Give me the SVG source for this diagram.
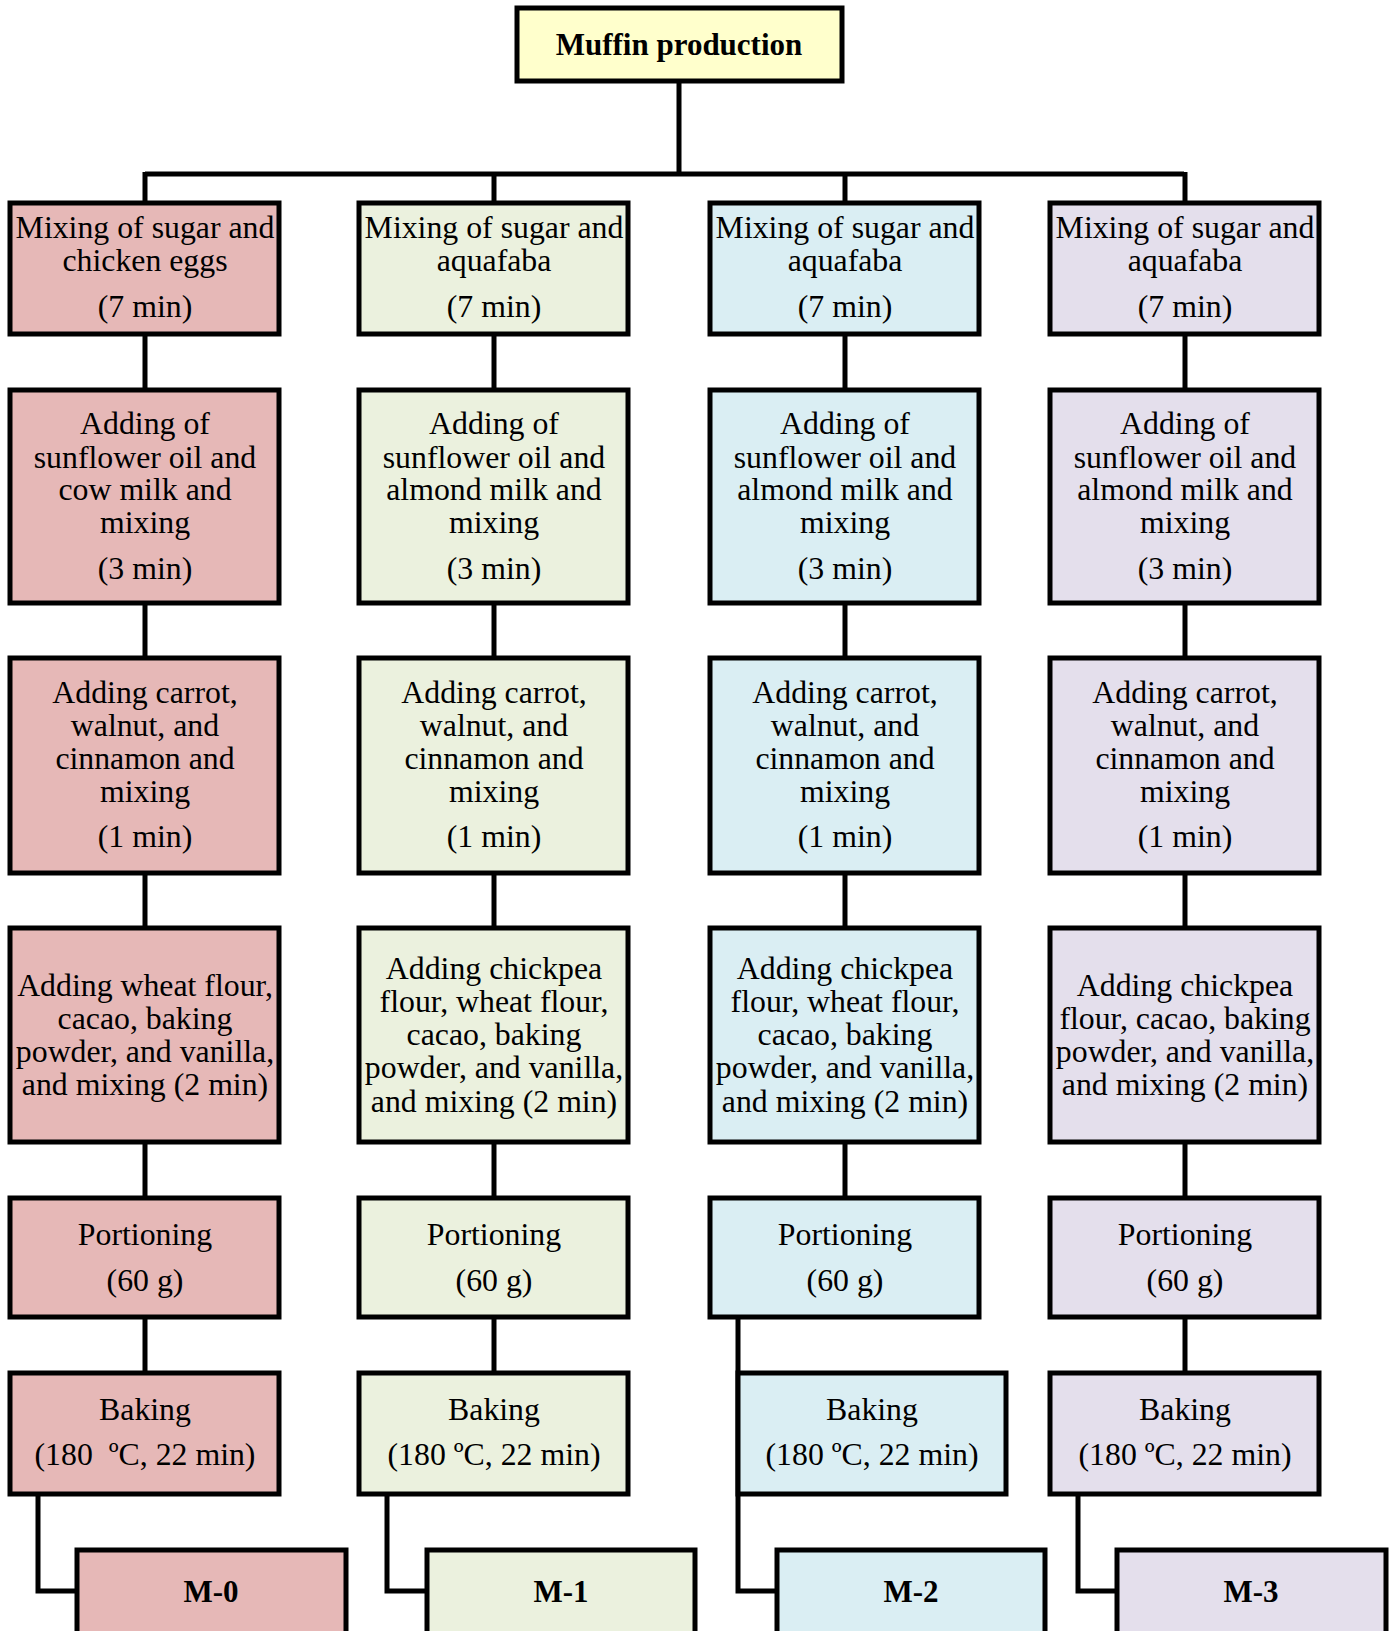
<svg xmlns="http://www.w3.org/2000/svg" width="1394" height="1631" viewBox="0 0 1394 1631">
<style>
.b{stroke:#000;stroke-width:5}
.c0{fill:#E6B8B7}.c1{fill:#EBF1DE}.c2{fill:#DAEEF3}.c3{fill:#E4DFEC}.ct{fill:#FFFFCC}
text{font-family:"Liberation Serif","Times New Roman",serif;font-size:31.8px;text-anchor:middle;fill:#000}
.bold{font-weight:bold;font-size:31px}
.ln{stroke:#000;stroke-width:5;fill:none}
</style>
<rect width="1394" height="1631" fill="#fff"/>
<g id="connectors">
<path class="ln" d="M679 81V174M145 174H1184M145 172V203M494 172V203M845 172V203M1185 172V203"/>
<path class="ln" d="M145 334V390M145 603V658M145 873V928M145 1142V1198M145 1317V1373M38 1494V1591H77"/>
<path class="ln" d="M494 334V390M494 603V658M494 873V928M494 1142V1198M494 1317V1373M387 1494V1591H427"/>
<path class="ln" d="M845 334V390M845 603V658M845 873V928M845 1142V1198M738 1317V1591H777"/>
<path class="ln" d="M1185 334V390M1185 603V658M1185 873V928M1185 1142V1198M1185 1317V1373M1078 1494V1591H1117"/>
</g>
<g id="top"><rect class="b ct" x="517" y="8" width="325" height="73"/><text class="bold" x="679" y="55">Muffin production</text></g>

<g id="m0-1"><rect class="b c0" x="10" y="203" width="269" height="131"/><text x="145" y="238">Mixing of sugar and</text><text x="145" y="271">chicken eggs</text><text x="145" y="317">(7 min)</text></g>
<g id="m0-2"><rect class="b c0" x="10" y="390" width="269" height="213"/><text x="145" y="434">Adding of</text><text x="145" y="468">sunflower oil and</text><text x="145" y="500">cow milk and</text><text x="145" y="533">mixing</text><text x="145" y="579">(3 min)</text></g>
<g id="m0-3"><rect class="b c0" x="10" y="658" width="269" height="215"/><text x="145" y="703">Adding carrot,</text><text x="145" y="736">walnut, and</text><text x="145" y="769">cinnamon and</text><text x="145" y="802">mixing</text><text x="145" y="847">(1 min)</text></g>
<g id="m0-4"><rect class="b c0" x="10" y="928" width="269" height="214"/><text x="145" y="996">Adding wheat flour,</text><text x="145" y="1029">cacao, baking</text><text x="145" y="1062">powder, and vanilla,</text><text x="145" y="1095">and mixing (2 min)</text></g>
<g id="m0-5"><rect class="b c0" x="10" y="1198" width="269" height="119"/><text x="145" y="1245">Portioning</text><text x="145" y="1291">(60 g)</text></g>
<g id="m0-6"><rect class="b c0" x="10" y="1373" width="269" height="121"/><text x="145" y="1420">Baking</text><text x="145" y="1465">(180&#160; ºC, 22 min)</text></g>
<g id="m0"><rect class="b c0" x="77" y="1550" width="269" height="90"/><text class="bold" x="211" y="1602">M-0</text></g>

<g id="m1-1"><rect class="b c1" x="359" y="203" width="269" height="131"/><text x="494" y="238">Mixing of sugar and</text><text x="494" y="271">aquafaba</text><text x="494" y="317">(7 min)</text></g>
<g id="m1-2"><rect class="b c1" x="359" y="390" width="269" height="213"/><text x="494" y="434">Adding of</text><text x="494" y="468">sunflower oil and</text><text x="494" y="500">almond milk and</text><text x="494" y="533">mixing</text><text x="494" y="579">(3 min)</text></g>
<g id="m1-3"><rect class="b c1" x="359" y="658" width="269" height="215"/><text x="494" y="703">Adding carrot,</text><text x="494" y="736">walnut, and</text><text x="494" y="769">cinnamon and</text><text x="494" y="802">mixing</text><text x="494" y="847">(1 min)</text></g>
<g id="m1-4"><rect class="b c1" x="359" y="928" width="269" height="214"/><text x="494" y="979">Adding chickpea</text><text x="494" y="1012">flour, wheat flour,</text><text x="494" y="1045">cacao, baking</text><text x="494" y="1078">powder, and vanilla,</text><text x="494" y="1112">and mixing (2 min)</text></g>
<g id="m1-5"><rect class="b c1" x="359" y="1198" width="269" height="119"/><text x="494" y="1245">Portioning</text><text x="494" y="1291">(60 g)</text></g>
<g id="m1-6"><rect class="b c1" x="359" y="1373" width="269" height="121"/><text x="494" y="1420">Baking</text><text x="494" y="1465">(180 ºC, 22 min)</text></g>
<g id="m1"><rect class="b c1" x="427" y="1550" width="268" height="90"/><text class="bold" x="561" y="1602">M-1</text></g>

<g id="m2-1"><rect class="b c2" x="710" y="203" width="269" height="131"/><text x="845" y="238">Mixing of sugar and</text><text x="845" y="271">aquafaba</text><text x="845" y="317">(7 min)</text></g>
<g id="m2-2"><rect class="b c2" x="710" y="390" width="269" height="213"/><text x="845" y="434">Adding of</text><text x="845" y="468">sunflower oil and</text><text x="845" y="500">almond milk and</text><text x="845" y="533">mixing</text><text x="845" y="579">(3 min)</text></g>
<g id="m2-3"><rect class="b c2" x="710" y="658" width="269" height="215"/><text x="845" y="703">Adding carrot,</text><text x="845" y="736">walnut, and</text><text x="845" y="769">cinnamon and</text><text x="845" y="802">mixing</text><text x="845" y="847">(1 min)</text></g>
<g id="m2-4"><rect class="b c2" x="710" y="928" width="269" height="214"/><text x="845" y="979">Adding chickpea</text><text x="845" y="1012">flour, wheat flour,</text><text x="845" y="1045">cacao, baking</text><text x="845" y="1078">powder, and vanilla,</text><text x="845" y="1112">and mixing (2 min)</text></g>
<g id="m2-5"><rect class="b c2" x="710" y="1198" width="269" height="119"/><text x="845" y="1245">Portioning</text><text x="845" y="1291">(60 g)</text></g>
<g id="m2-6"><rect class="b c2" x="738" y="1373" width="268" height="121"/><text x="872" y="1420">Baking</text><text x="872" y="1465">(180 ºC, 22 min)</text></g>
<g id="m2"><rect class="b c2" x="777" y="1550" width="268" height="90"/><text class="bold" x="911" y="1602">M-2</text></g>

<g id="m3-1"><rect class="b c3" x="1050" y="203" width="269" height="131"/><text x="1185" y="238">Mixing of sugar and</text><text x="1185" y="271">aquafaba</text><text x="1185" y="317">(7 min)</text></g>
<g id="m3-2"><rect class="b c3" x="1050" y="390" width="269" height="213"/><text x="1185" y="434">Adding of</text><text x="1185" y="468">sunflower oil and</text><text x="1185" y="500">almond milk and</text><text x="1185" y="533">mixing</text><text x="1185" y="579">(3 min)</text></g>
<g id="m3-3"><rect class="b c3" x="1050" y="658" width="269" height="215"/><text x="1185" y="703">Adding carrot,</text><text x="1185" y="736">walnut, and</text><text x="1185" y="769">cinnamon and</text><text x="1185" y="802">mixing</text><text x="1185" y="847">(1 min)</text></g>
<g id="m3-4"><rect class="b c3" x="1050" y="928" width="269" height="214"/><text x="1185" y="996">Adding chickpea</text><text x="1185" y="1029">flour, cacao, baking</text><text x="1185" y="1062">powder, and vanilla,</text><text x="1185" y="1095">and mixing (2 min)</text></g>
<g id="m3-5"><rect class="b c3" x="1050" y="1198" width="269" height="119"/><text x="1185" y="1245">Portioning</text><text x="1185" y="1291">(60 g)</text></g>
<g id="m3-6"><rect class="b c3" x="1050" y="1373" width="269" height="121"/><text x="1185" y="1420">Baking</text><text x="1185" y="1465">(180 ºC, 22 min)</text></g>
<g id="m3"><rect class="b c3" x="1117" y="1550" width="269" height="90"/><text class="bold" x="1251" y="1602">M-3</text></g>
</svg>
